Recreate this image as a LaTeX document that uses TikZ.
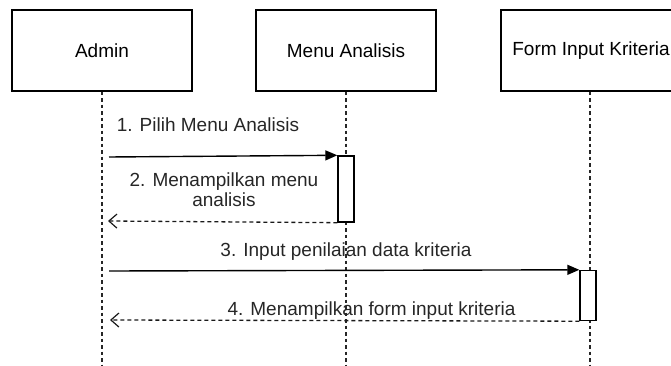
\documentclass[tikz,border=0pt]{standalone}
\usepackage{fontspec}
\setmainfont{Liberation Sans}
\usetikzlibrary{arrows.meta}
\begin{document}
\begin{tikzpicture}[x=1pt,y=-1pt,
  font=\fontsize{19}{20}\selectfont,
  head/.style={draw=black, line width=1.4pt, fill=white, minimum width=180pt, minimum height=81pt, inner sep=0pt},
  act/.style={draw=black, line width=1.4pt, fill=white, minimum width=16pt, minimum height=#1, inner sep=0pt},
  lifeline/.style={draw=black!85, line width=1.4pt, dash pattern=on 3.5pt off 3pt},
  callmsg/.style={draw=black, line width=1.4pt, -{Triangle[length=12pt,width=10pt]}},
  retmsg/.style={draw=black!90, line width=1.3pt, dash pattern=on 4pt off 3pt, -{Straight Barb[length=8pt,width=14pt,line width=1.2pt]}},
  lbl/.style={text=black!85, align=center, inner sep=0pt}
]
\useasboundingbox (0,0) rectangle (671,366);
\begin{scope}
\clip (0,0) rectangle (671,366);
% lifeline heads
\node[head] (admin) at (102,50.5) {Admin};
\node[head] (menu) at (346,50.5) {Menu Analisis};
\node[head] (form) at (591,50.5) {Form Input Kriteria};
% lifeline ends
\coordinate (adminEnd) at (102,366);
\coordinate (menuEnd) at (346,366);
\coordinate (formEnd) at (590,366);
\draw[lifeline] (admin.south) -- (adminEnd);
\draw[lifeline] (menu.south) -- (menuEnd);
\draw[lifeline] ([xshift=-1pt]form.south) -- (formEnd);
% activations
\node[act=66pt] (actMenu) at (346,189) {};
\node[act=50pt] (actForm) at (588,295.5) {};
% message end points on Admin side
\coordinate (a1) at (109,157);
\coordinate (a2) at (108,221);
\coordinate (a3) at (109,271);
\coordinate (a4) at (110,320);
% messages
\draw[callmsg] (a1) -- (actMenu.north west);
\draw[retmsg] (actMenu.south west) -- (a2);
\draw[callmsg] (a3) -- (actForm.north west);
\draw[retmsg] (actForm.south west) -- (a4);
% labels
\node[lbl] (l1) at (208,125) {1. Pilih Menu Analisis};
\node[lbl] (l2) at (224,190) {2. Menampilkan menu\\analisis};
\node[lbl] (l3) at (346,251.5) {3. Input penilaian data kriteria};
\node[lbl] (l4) at (371.5,310.5) {4. Menampilkan form input kriteria};
\end{scope}
\end{tikzpicture}
\end{document}
